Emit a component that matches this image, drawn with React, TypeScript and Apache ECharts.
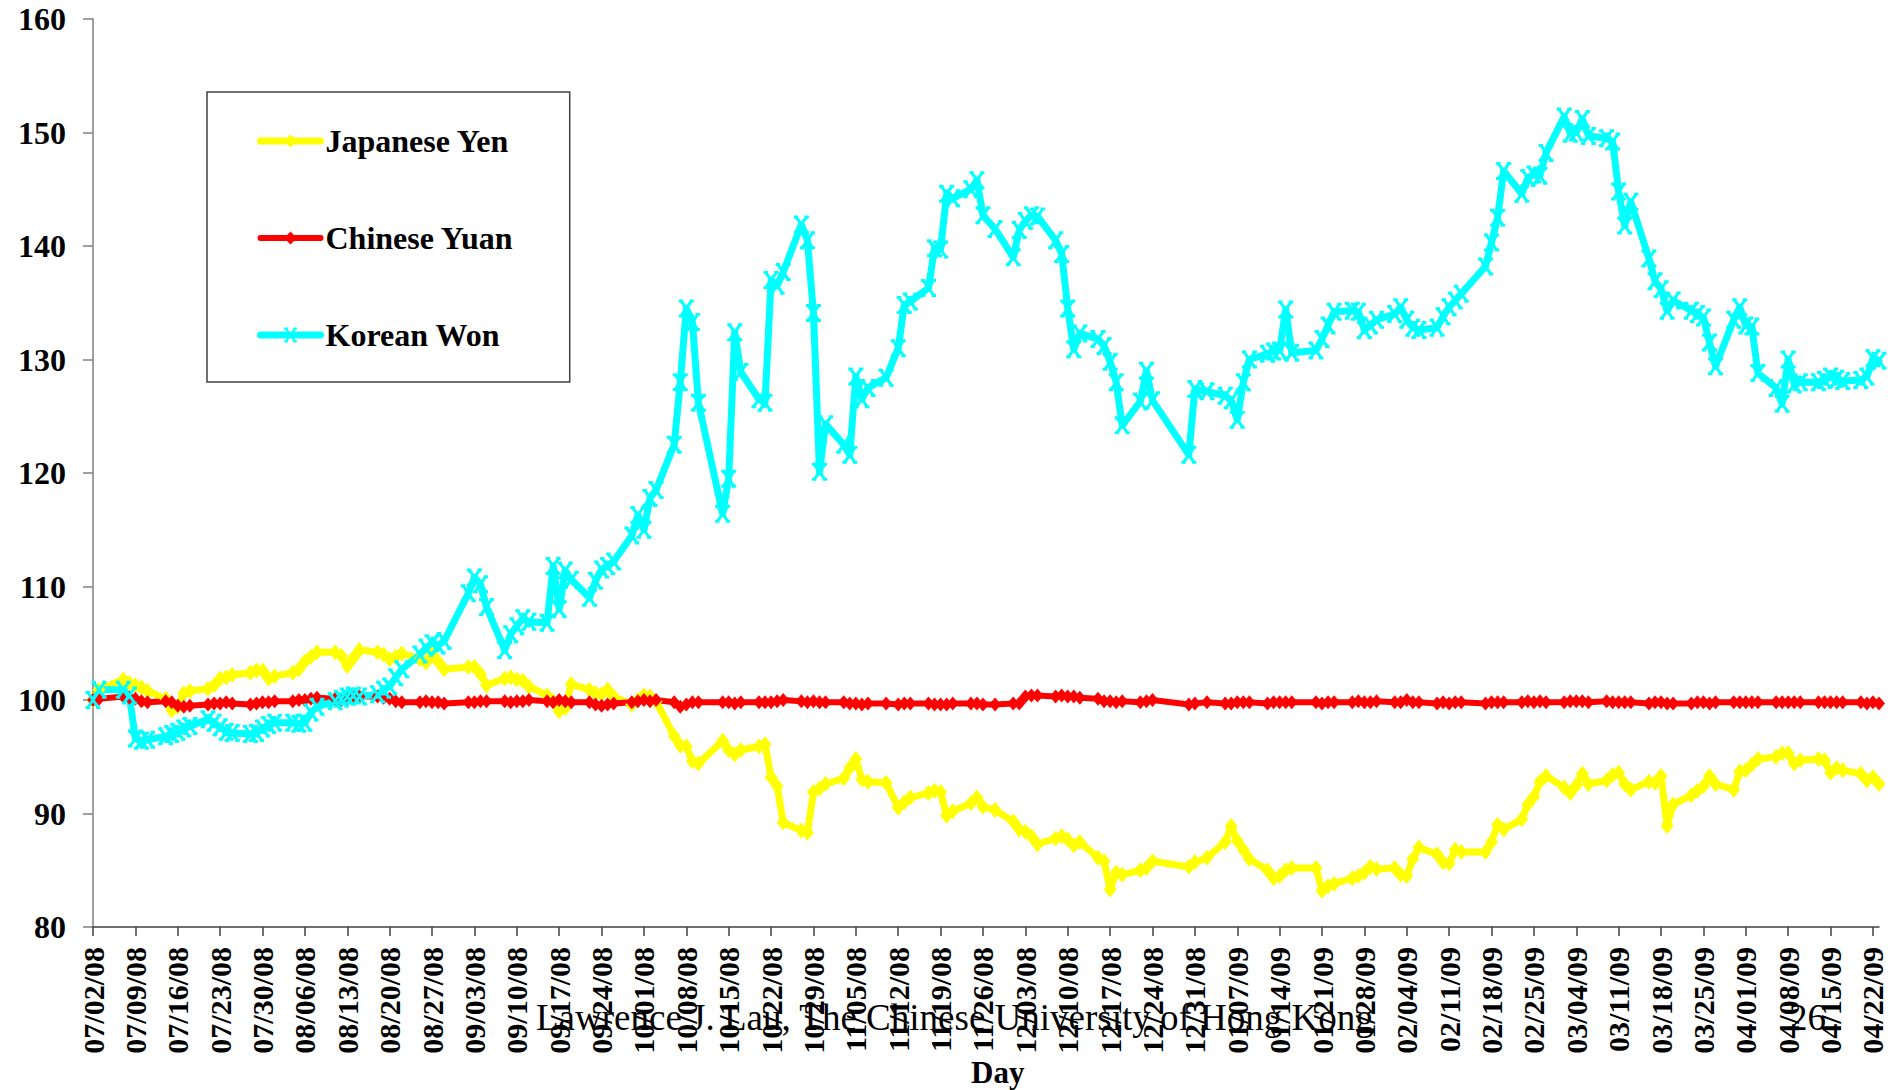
import React, { useEffect, useRef } from "react";
import * as echarts from "echarts";

// Weekly tick labels (every Wednesday)
const tickLabels = [
  "07/02/08", "07/09/08", "07/16/08", "07/23/08", "07/30/08", "08/06/08", "08/13/08",
  "08/20/08", "08/27/08", "09/03/08", "09/10/08", "09/17/08", "09/24/08", "10/01/08",
  "10/08/08", "10/15/08", "10/22/08", "10/29/08", "11/05/08", "11/12/08", "11/19/08",
  "11/26/08", "12/03/08", "12/10/08", "12/17/08", "12/24/08", "12/31/08", "01/07/09",
  "01/14/09", "01/21/09", "01/28/09", "02/04/09", "02/11/09", "02/18/09", "02/25/09",
  "03/04/09", "03/11/09", "03/18/09", "03/25/09", "04/01/09", "04/08/09", "04/15/09",
  "04/22/09",
];

// Trading days within each week, as day offsets from the week's Wednesday: Wed, Thu, Fri, Mon, Tue
const weekdayOffsets = [0, 1, 2, 5, 6];
const totalDays = 296; // 07/02/08 .. 04/23/09

const seriesNames = ["Japanese Yen", "Chinese Yuan", "Korean Won"];

// Index values (07/02/08 = 100), five trading days per week; null = no quote (holiday)
const yenValues = [
  100, 100.9, null, 101.8, 101.5,
  101.3, 101.1, 100.8, 100.1, 99.1,
  99.4, 100.6, 100.8, 101.0, 101.3,
  101.9, 102.0, 102.2, 102.4, 102.6,
  102.6, 101.9, 102.1, 102.4, 102.7,
  103.4, 103.8, 104.2, 104.2, 103.9,
  103.0, 103.7, 104.4, 104.2, 104.0,
  103.6, 103.8, 104.1, 103.6, 103.3,
  104.0, 103.4, 102.7, null, 102.9,
  102.9, 102.3, 101.3, 101.9, 102.0,
  101.8, 101.7, 101.2, 100.4, 99.9,
  99.0, 99.3, 101.4, 100.9, 100.6,
  100.5, 100.9, 100.3, 99.6, 100.0,
  100.4, 100.3, 99.9, 96.8, 96.0,
  95.9, 94.6, 94.4, null, 96.4,
  95.6, 95.2, 95.6, 95.9, 96.1,
  93.2, 92.4, 89.2, 88.5, 88.3,
  91.9, 92.2, 92.6, 93.1, 94.0,
  94.8, 93.0, 92.8, 92.7, null,
  90.5, 91.0, 91.4, 91.8, 92.0,
  91.9, 89.8, 90.2, 90.9, 91.4,
  90.6, null, 90.3, 89.3, 88.6,
  88.4, 88.0, 87.3, 87.8, 88.0,
  87.7, 87.2, 87.5, 86.1, 85.8,
  83.3, 84.8, 84.6, 85.0, 85.2,
  85.8, null, null, null, 85.3,
  85.7, null, 86.1, 87.5, 88.9,
  87.6, 86.8, 86.0, 85.0, 84.3,
  84.5, 85.0, 85.2, null, 85.2,
  83.2, 83.6, 83.8, 84.3, 84.5,
  84.8, 85.3, 85.1, 85.2, 84.6,
  84.5, 86.0, 87.0, 86.4, 85.7,
  85.6, 86.8, 86.6, null, 86.6,
  87.5, 89.0, 88.6, 89.5, 90.8,
  91.5, 92.8, 93.3, 92.3, 91.8,
  92.5, 93.5, 92.6, 92.9, 93.4,
  93.6, 92.6, 92.1, 92.8, 92.7,
  93.3, 88.9, 90.8, 91.6, 92.0,
  92.4, 93.3, 92.6, 92.1, 93.7,
  93.8, 94.3, 94.8, 95.0, 95.3,
  95.3, 94.4, 94.7, 94.8, 94.7,
  93.6, 94.0, 93.8, 93.5, 92.9,
  93.2, 92.6,
];

const yuanValues = [
  100, 100.1, null, 100.3, 100.2,
  100.1, 99.9, 99.8, 99.9, 99.8,
  99.5, 99.4, 99.5, 99.6, 99.7,
  99.7, 99.8, 99.7, 99.6, 99.7,
  99.8, 99.8, 99.9, 99.9, 100.0,
  100.0, 100.1, 100.2, 100.1, 100.0,
  100.1, 100.2, 100.3, 100.3, 100.2,
  100.1, 99.9, 99.8, 99.8, 99.9,
  99.8, 99.8, 99.7, null, 99.8,
  99.8, 99.9, 99.9, 99.9, 99.8,
  99.9, 99.9, 100.0, 99.9, 99.8,
  100.0, 99.9, 99.8, 99.8, 99.6,
  99.5, 99.6, 99.7, 99.8, 99.9,
  100.0, 99.9, 100.0, 99.8, 99.4,
  99.6, 99.8, 99.8, null, 99.8,
  99.8, 99.7, 99.8, 99.8, 99.8,
  99.8, 99.9, 100.0, 99.9, 99.8,
  99.9, 99.8, 99.8, 99.8, 99.7,
  99.7, 99.6, 99.7, 99.7, null,
  99.6, 99.7, 99.7, 99.7, 99.6,
  99.6, 99.6, 99.7, 99.7, 99.7,
  99.6, null, 99.6, 99.7, 99.7,
  100.3, 100.4, 100.4, 100.3, 100.4,
  100.3, 100.3, 100.2, 100.1, 99.9,
  99.9, 99.8, 99.9, 99.8, 99.9,
  100.0, null, null, null, 99.6,
  99.7, null, 99.8, 99.7, 99.7,
  99.8, 99.8, 99.8, 99.7, 99.8,
  99.8, 99.8, 99.8, null, 99.8,
  99.7, 99.8, 99.8, 99.8, 99.9,
  99.8, 99.8, 99.9, 99.8, 99.8,
  100.0, 99.8, 99.8, 99.7, 99.8,
  99.7, 99.8, 99.8, null, 99.7,
  99.8, 99.8, 99.8, 99.8, 99.9,
  99.8, 99.9, 99.8, 99.8, 99.9,
  99.9, 99.9, 99.8, 99.9, 99.8,
  99.8, 99.8, 99.8, 99.7, 99.8,
  99.8, 99.7, 99.7, 99.7, 99.8,
  99.8, 99.7, 99.8, 99.8, 99.8,
  99.8, 99.8, 99.8, 99.8, 99.8,
  99.8, 99.8, 99.8, 99.8, 99.8,
  99.8, 99.8, 99.8, 99.8, 99.7,
  99.8, 99.7,
];

const wonValues = [
  100, 100.9, null, 100.9, 100.4,
  96.6, 96.4, 96.5, 96.8, 97.0,
  97.2, 97.5, 97.7, 98.3, 98.0,
  97.6, 97.2, 97.1, 97.0, 97.1,
  97.5, 97.8, 98.0, 98.0, 97.9,
  98.0, 98.9, 99.4, 99.9, 100.1,
  100.3, 100.4, 100.3, 100.5, 100.9,
  101.2, 102.0, 102.7, 104.0, 104.6,
  105.0, 104.8, 105.2, null, 109.4,
  110.8, 110.2, 108.2, 104.4, 105.8,
  106.5, 107.2, 106.9, 106.8, 111.8,
  108.0, 111.4, 110.6, 109.0, 110.5,
  111.5, 111.8, 112.2, 114.5, 116.3,
  115.0, 117.8, 118.5, 122.5, 128.0,
  134.5, 133.3, 126.2, null, 116.4,
  119.5, 132.4, 128.9, 126.5, 126.2,
  137.0, 136.5, 137.7, 141.9, 140.5,
  134.1, 120.1, 124.3, 122.5, 121.6,
  128.5, 126.5, 127.5, 128.4, null,
  131.0, 134.8, 135.1, 136.3, 139.8,
  139.7, 144.6, 144.2, 145.0, 145.8,
  142.7, null, 141.5, 139.0, 141.4,
  142.2, 142.7, 142.6, 140.5, 139.3,
  134.5, 130.9, 132.3, 131.8, 131.2,
  129.8, 128.0, 124.2, 126.3, 129.0,
  126.4, null, null, null, 121.6,
  127.4, null, 127.2, 126.8, 126.4,
  124.7, 128.0, 130.0, 130.5, 130.7,
  130.8, 134.4, 130.6, null, 130.8,
  131.8, 133.0, 134.2, 134.3, 134.2,
  132.6, 133.0, 133.5, 134.0, 134.6,
  133.5, 132.8, 132.6, 132.8, 133.8,
  134.6, 135.2, 135.8, null, 138.2,
  140.3, 142.5, 146.6, 144.6, 146.0,
  146.3, 146.2, 148.2, 151.4, 149.9,
  150.0, 151.2, 149.7, 149.5, 149.2,
  144.8, 141.8, 143.9, 138.9, 136.9,
  136.2, 134.3, 135.2, 134.3, 134.0,
  133.7, 131.5, 129.4, 133.5, 134.6,
  133.0, 132.9, 128.8, 127.5, 126.1,
  130.0, 127.8, 128.0, 128.0, 128.2,
  128.5, 128.3, 128.1, 128.2, 128.5,
  130.1, 129.9,
];

const yTickMin = 80;
const yTickMax = 160;
const yTickStep = 10;

function toDaily(values: (number | null)[]): (number | null)[] {
  const out: (number | null)[] = new Array(totalDays).fill(null);
  values.forEach((v, i) => {
    const week = Math.floor(i / 5);
    const day = week * 7 + weekdayOffsets[i % 5];
    if (day < totalDays) out[day] = v;
  });
  return out;
}

const dayCategories = Array.from({ length: totalDays }, (_, i) => String(i));

const SERIF = '"Liberation Serif", "Times New Roman", "DejaVu Serif", serif';

const wonSymbol =
  "path://M0,0L12,12M12,0L0,12M-2.5,0L2.5,0M9.5,0L14.5,0M-2.5,12L2.5,12M9.5,12L14.5,12";

export default function App() {
  const ref = useRef<HTMLDivElement>(null);

  useEffect(() => {
    if (!ref.current) return;
    const chart = echarts.init(ref.current, undefined, { renderer: "svg" });

    const option: any = {
      animation: false,
      backgroundColor: "#ffffff",
      grid: { left: 93, right: 16, top: 19, bottom: 163, containLabel: false },
      legend: {
        orient: "vertical",
        left: 207,
        top: 92,
        padding: [32, 56, 30, 50],
        itemGap: 63,
        itemWidth: 60,
        itemHeight: 16,
        borderColor: "#404040",
        borderWidth: 1.5,
        backgroundColor: "#ffffff",
        data: seriesNames,
        lineStyle: { width: "inherit", cap: "round" },
        textStyle: {
          fontFamily: SERIF,
          fontWeight: "bold",
          fontSize: 32,
          lineHeight: 34,
          color: "#000000",
        },
      },
      xAxis: {
        type: "category",
        boundaryGap: false,
        data: dayCategories,
        axisLine: { show: true, lineStyle: { color: "#404040", width: 1.5 } },
        axisTick: {
          show: true,
          interval: 6,
          length: 9,
          lineStyle: { color: "#404040", width: 1.5 },
        },
        axisLabel: {
          interval: 6,
          rotate: 90,
          margin: 20,
          fontFamily: SERIF,
          fontWeight: "bold",
          fontSize: 30,
          color: "#000000",
          formatter: (_v: string, idx: number) =>
            idx % 7 === 0 ? tickLabels[idx / 7] ?? "" : "",
        },
        splitLine: { show: false },
      },
      yAxis: {
        type: "value",
        min: yTickMin,
        max: yTickMax,
        interval: yTickStep,
        axisLine: { show: true, lineStyle: { color: "#808080", width: 1.5 } },
        axisTick: { show: true, length: 10, lineStyle: { color: "#808080", width: 1.5 } },
        axisLabel: {
          margin: 27,
          fontFamily: SERIF,
          fontWeight: "bold",
          fontSize: 32,
          color: "#000000",
        },
        splitLine: { show: false },
      },
      series: [
        {
          name: seriesNames[0],
          type: "line",
          data: toDaily(yenValues),
          connectNulls: true,
          showAllSymbol: true,
          symbol: "diamond",
          symbolSize: [13, 16],
          lineStyle: { color: "#FFFF00", width: 7, join: "round", cap: "round" },
          itemStyle: { color: "#FFFF00" },
          emphasis: { disabled: true },
        },
        {
          name: seriesNames[1],
          type: "line",
          data: toDaily(yuanValues),
          connectNulls: true,
          showAllSymbol: true,
          symbol: "diamond",
          symbolSize: [12, 14],
          lineStyle: { color: "#FF0000", width: 6, join: "round", cap: "round" },
          itemStyle: { color: "#FF0000" },
          emphasis: { disabled: true },
        },
        {
          name: seriesNames[2],
          type: "line",
          data: toDaily(wonValues),
          connectNulls: true,
          showAllSymbol: true,
          symbol: wonSymbol,
          symbolSize: 15,
          lineStyle: { color: "#00FFFF", width: 7, join: "round", cap: "round" },
          itemStyle: { color: "#00FFFF", borderColor: "#00FFFF", borderWidth: 3 },
          emphasis: { disabled: true },
        },
      ],
      graphic: [
        {
          type: "text",
          left: 536,
          top: 999,
          style: {
            text: "Lawrence J. Lau, The Chinese University of Hong Kong",
            fontFamily: SERIF,
            fontSize: 37,
            fill: "#000000",
          },
          z: 100,
        },
        {
          type: "text",
          left: 1789,
          top: 999,
          style: {
            text: "26",
            fontFamily: SERIF,
            fontSize: 37,
            fill: "#000000",
          },
          z: 100,
        },
        {
          type: "text",
          left: 971,
          top: 1057,
          style: {
            text: "Day",
            fontFamily: SERIF,
            fontWeight: "bold",
            fontSize: 31,
            fill: "#000000",
          },
          z: 100,
        },
      ],
    };

    chart.setOption(option);
    return () => chart.dispose();
  }, []);

  return (
    <div
      ref={ref}
      style={{ position: "absolute", left: 0, top: 0, width: 1895, height: 1090 }}
    />
  );
}
